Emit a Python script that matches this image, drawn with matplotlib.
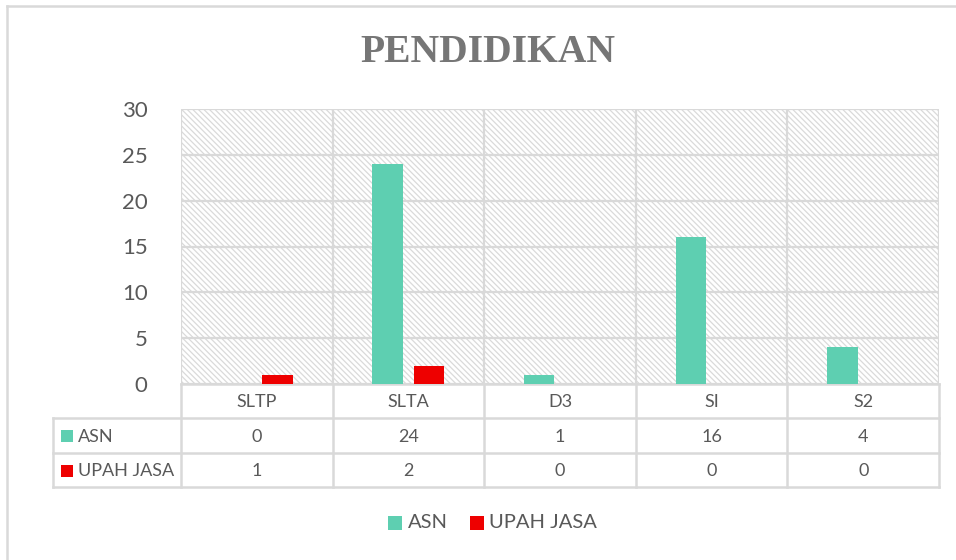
import matplotlib
matplotlib.use("Agg")
import matplotlib.pyplot as plt
from matplotlib.patches import Rectangle
from matplotlib.lines import Line2D
import numpy as np

# ---- data ----
categories = ["SLTP", "SLTA", "D3", "SI", "S2"]
asn = [0, 24, 1, 16, 4]
upah_jasa = [1, 2, 0, 0, 0]
series_names = ["ASN", "UPAH JASA"]
yticks = [0, 5, 10, 15, 20, 25, 30]
title = "PENDIDIKAN"

C_ASN = "#5ECFB1"
C_UPAH = "#EE0000"
GRID = "#D9D9D9"
TXT = "#595959"
FONT = "Lato"

plt.rcParams["hatch.linewidth"] = 0.9

W, H = 956, 560
fig = plt.figure(figsize=(W / 100, H / 100), dpi=100)

# overlay axes in pixel coords for border / table
ov = fig.add_axes([0, 0, 1, 1], zorder=0)
ov.set_xlim(0, W)
ov.set_ylim(H, 0)
ov.axis("off")

# plot area
L, R, T, B = 181, 939, 109, 384
ax = fig.add_axes([L / W, 1 - B / H, (R - L) / W, (B - T) / H], zorder=1)
ax.set_xlim(-0.5, len(categories) - 0.5)
ax.set_ylim(0, 30)
ax.patch.set_alpha(0)

# hatched background
ax.add_patch(Rectangle((0, 0), 1, 1, transform=ax.transAxes, facecolor="white",
                       edgecolor="#DADADA", linewidth=0, hatch="\\\\\\\\\\\\", zorder=0))

for y in yticks:
    ax.axhline(y, color=GRID, lw=1.6, zorder=1)
for i in range(len(categories) + 1):
    ax.axvline(i - 0.5, color=GRID, lw=1.6, zorder=1)
for s in ax.spines.values():
    s.set_visible(False)

x = np.arange(len(categories))
bw = 0.2
off = 0.137
ax.bar(x - off, asn, width=bw, color=C_ASN, zorder=3)
ax.bar(x + off, upah_jasa, width=bw, color=C_UPAH, zorder=3)

ax.set_yticks(yticks)
ax.set_yticklabels([str(v) for v in yticks], fontsize=16, color=TXT, family=FONT)
ax.tick_params(axis="y", length=0, pad=24)
ax.set_xticks([])

# title
fig.text(488 / W, 1 - 52 / H, title, ha="center", va="center", fontsize=28.5,
         fontweight="bold", color="#767676", family="Liberation Serif")

# outer border
ov.add_line(Line2D([7, 7], [6, H], color=GRID, lw=1.8))
ov.add_line(Line2D([7, W], [6, 6], color=GRID, lw=1.8))

# table
row_y = [384, 418, 453, 487]
col_x = [L + (R - L) * i / len(categories) for i in range(len(categories) + 1)]
tab_left = 53
ov.add_line(Line2D([L, R], [row_y[0], row_y[0]], color=GRID, lw=1.8))
for yy in row_y[1:]:
    ov.add_line(Line2D([tab_left, R], [yy, yy], color=GRID, lw=1.8))
ov.add_line(Line2D([tab_left, tab_left], [row_y[1], row_y[3]], color=GRID, lw=1.8))
for cx in col_x:
    ov.add_line(Line2D([cx, cx], [row_y[0], row_y[3]], color=GRID, lw=1.8))

cell_fs = 13
centers = [(col_x[i] + col_x[i + 1]) / 2 for i in range(len(categories))]
for i, c in enumerate(categories):
    ov.text(centers[i], (row_y[0] + row_y[1]) / 2 + 1, c, ha="center", va="center",
            fontsize=cell_fs, color=TXT, family=FONT)
for r, (vals, name, col) in enumerate([(asn, series_names[0], C_ASN),
                                        (upah_jasa, series_names[1], C_UPAH)]):
    yc = (row_y[r + 1] + row_y[r + 2]) / 2 + 1
    for i, v in enumerate(vals):
        ov.text(centers[i], yc, str(v), ha="center", va="center",
                fontsize=cell_fs, color=TXT, family=FONT)
    ov.add_patch(Rectangle((61, yc - 6.5), 12, 12, facecolor=col, edgecolor="none"))
    ov.text(78, yc, name, ha="left", va="center", fontsize=cell_fs, color=TXT, family=FONT)

# bottom legend
ly = 523
ov.add_patch(Rectangle((388, ly - 7), 14, 14, facecolor=C_ASN, edgecolor="none"))
ov.text(408, ly, series_names[0], ha="left", va="center", fontsize=14.5, color=TXT, family=FONT)
ov.add_patch(Rectangle((470, ly - 7), 14, 14, facecolor=C_UPAH, edgecolor="none"))
ov.text(489, ly, series_names[1], ha="left", va="center", fontsize=14.5, color=TXT, family=FONT)

fig.savefig("out.png", dpi=100, facecolor="white")
